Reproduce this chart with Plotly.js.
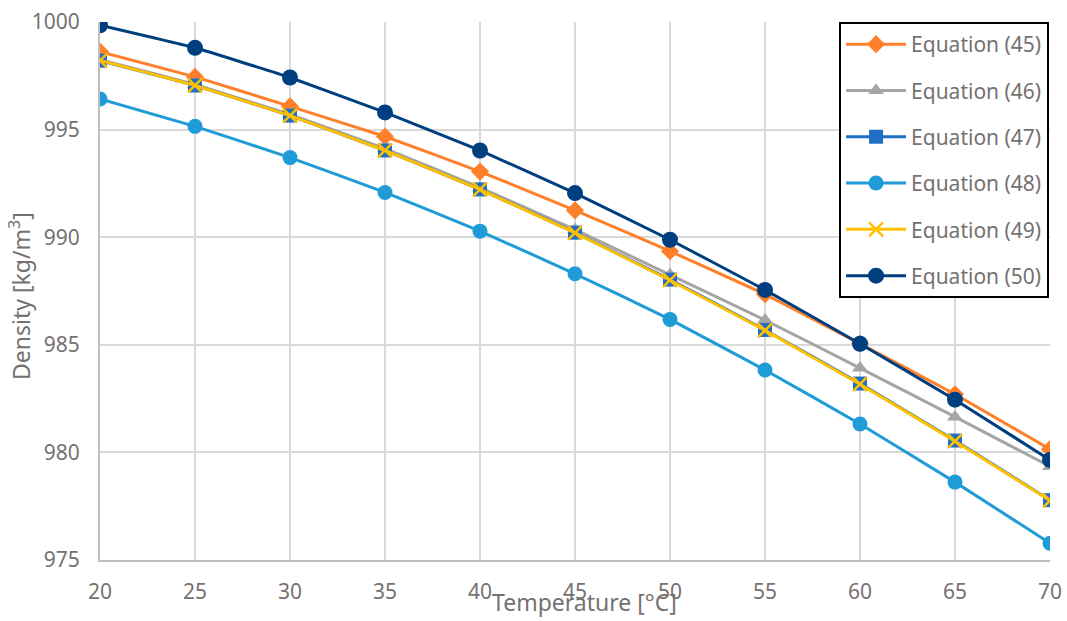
<!DOCTYPE html>
<html>
<head>
<meta charset="utf-8">
<script src="https://cdn.plot.ly/plotly-3.0.1.min.js"></script>
<style>html,body{margin:0;padding:0;background:#fff;}#chart{width:1067px;height:621px;}</style>
</head>
<body>
<div id="chart"></div>
<script>
const temperature = [20, 25, 30, 35, 40, 45, 50, 55, 60, 65, 70];
const eq45 = [998.62, 997.45, 996.08, 994.68, 993.05, 991.25, 989.35, 987.35, 985.05, 982.7, 980.15];
const eq46 = [998.25, 997.1, 995.7, 994.12, 992.3, 990.35, 988.25, 986.15, 983.92, 981.65, 979.35];
const eq47 = [998.2, 997.05, 995.65, 994.03, 992.22, 990.21, 988.03, 985.69, 983.2, 980.55, 977.78];
const eq48 = [996.42, 995.15, 993.7, 992.08, 990.28, 988.3, 986.18, 983.83, 981.32, 978.62, 975.78];
const eq49 = [998.21, 997.05, 995.65, 994.03, 992.22, 990.2, 988.0, 985.67, 983.17, 980.52, 977.76];
const eq50 = [999.85, 998.8, 997.42, 995.8, 994.03, 992.05, 989.88, 987.55, 985.05, 982.45, 979.65];

const names = ['Equation (45)', 'Equation (46)', 'Equation (47)', 'Equation (48)', 'Equation (49)', 'Equation (50)'];
const xTitle = 'Temperature [°C]';
const yTitle = 'Density [kg/m<sup>3</sup>]';
const series = [eq45, eq46, eq47, eq48, eq49, eq50];
const colors = ['#FF7F2A', '#A5A5A5', '#1F6FC5', '#1F9BD7', '#FFC000', '#003F7F'];
const symbols = ['diamond', 'triangle-up', 'square', 'circle', 'x-thin-open', 'circle'];
const sizes = [14, 14, 14, 15, 14, 16];

const traces = series.map((ys, i) => ({
  x: temperature,
  y: ys,
  name: names[i],
  type: 'scatter',
  mode: 'lines+markers',
  line: {color: colors[i], width: 3, shape: 'spline', smoothing: 0.3},
  marker: {symbol: symbols[i], size: sizes[i], color: colors[i], line: {color: colors[i], width: symbols[i] === 'x-thin-open' ? 2.5 : 0}},
  legendgroup: 'g' + i
}));

const fam = 'Noto Sans, Open Sans, sans-serif';
const grey = '#767171';

const layout = {
  width: 1067,
  height: 621,
  margin: {l: 100, r: 17, t: 22, b: 61},
  paper_bgcolor: '#ffffff',
  plot_bgcolor: '#ffffff',
  font: {family: fam, color: grey, size: 21},
  showlegend: true,
  legend: {
    x: 0.999, y: 1, xanchor: 'right', yanchor: 'top',
    bgcolor: '#ffffff', bordercolor: '#000000', borderwidth: 2,
    font: {family: fam, color: grey, size: 21},
    itemwidth: 60,
    tracegroupgap: 16,
    traceorder: 'grouped'
  },
  xaxis: {
    range: [20, 70],
    tickvals: temperature,
    showgrid: true, gridcolor: '#d9d9d9', gridwidth: 2,
    showline: true, linecolor: '#bfbfbf', linewidth: 2,
    zeroline: false,
    ticks: '',
    ticklabelstandoff: 12,
    tickfont: {family: fam, color: grey, size: 21}
  },
  yaxis: {
    range: [975, 1000],
    tickvals: [975, 980, 985, 990, 995, 1000],
    showgrid: true, gridcolor: '#d9d9d9', gridwidth: 2,
    showline: true, linecolor: '#bfbfbf', linewidth: 2,
    zeroline: false,
    ticks: '',
    ticklabelstandoff: 14,
    tickfont: {family: fam, color: grey, size: 21}
  },
  annotations: [
    {text: xTitle, xref: 'paper', yref: 'paper', x: 0.5095, y: -0.078, xanchor: 'center', yanchor: 'middle',
     showarrow: false, font: {family: fam, color: grey, size: 23}},
    {text: yTitle, xref: 'paper', yref: 'paper', x: -0.0842, y: 0.4907, xanchor: 'center', yanchor: 'middle',
     textangle: -90, showarrow: false, font: {family: fam, color: grey, size: 23}}
  ]
};

Plotly.newPlot('chart', traces, layout, {displayModeBar: false, responsive: false});
</script>
</body>
</html>
